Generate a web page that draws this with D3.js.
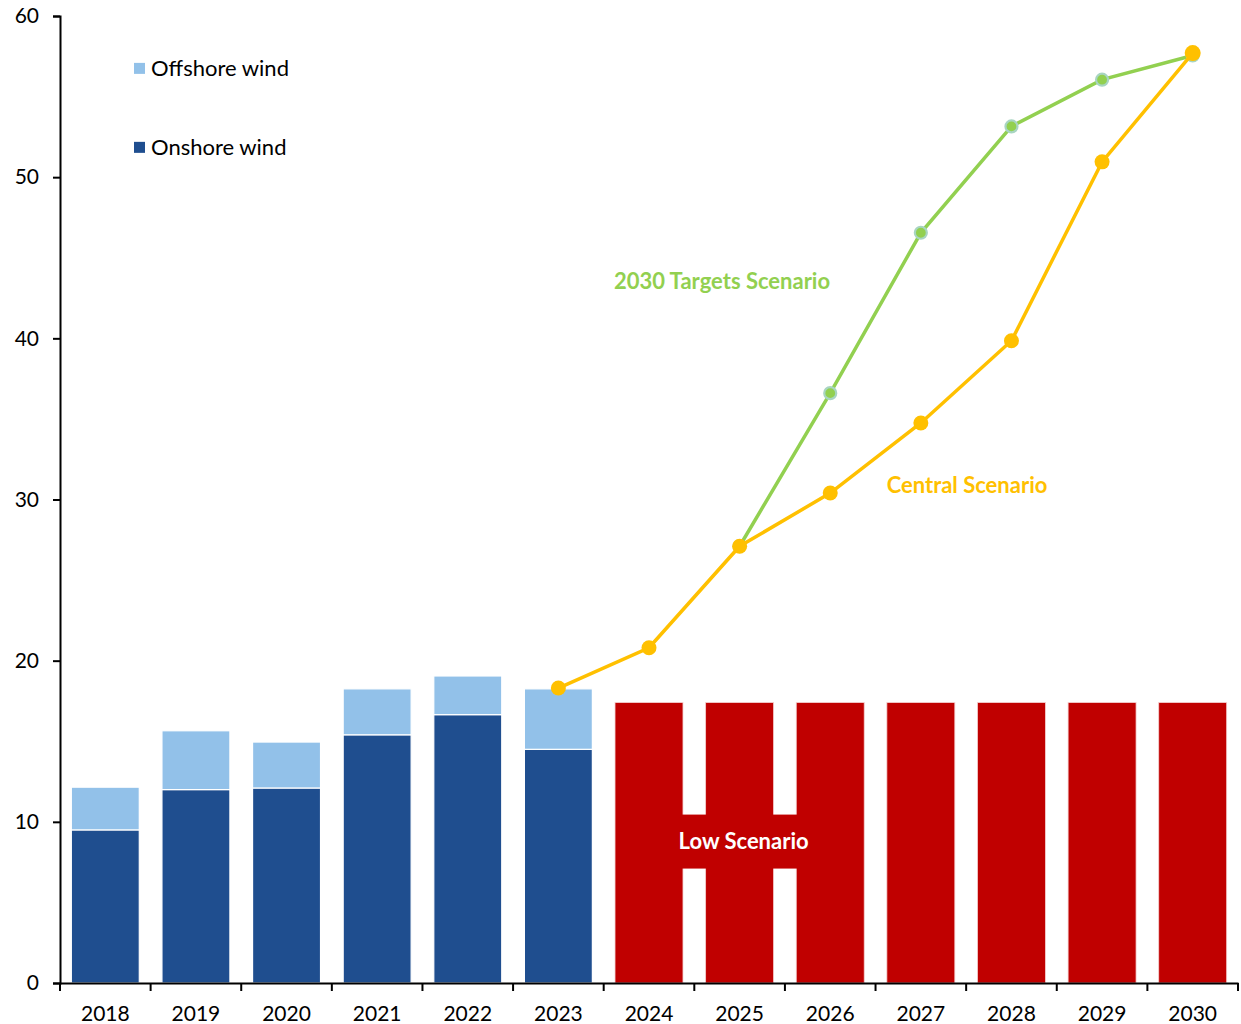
<!DOCTYPE html>
<html>
<head>
<meta charset="utf-8">
<script src="https://cdn.jsdelivr.net/npm/d3@7"></script>
<style>
  body { margin: 0; background: #fff; }
  svg text { font-family: Lato, "Open Sans", sans-serif; }
</style>
</head>
<body>
<svg id="chart" width="1241" height="1024"></svg>
<script>
const years = ["2018","2019","2020","2021","2022","2023","2024","2025","2026","2027","2028","2029","2030"];
const onshore = [9.5, 12.0, 12.1, 15.4, 16.65, 14.5];
const offshore = [2.65, 3.65, 2.85, 2.85, 2.4, 3.75];
const histYears = ["2018","2019","2020","2021","2022","2023"];
const lowYears = ["2024","2025","2026","2027","2028","2029","2030"];
const lowValues = [17.4, 17.4, 17.4, 17.4, 17.4, 17.4, 17.4];
const centralYears = ["2023","2024","2025","2026","2027","2028","2029","2030"];
const centralValues = [18.3, 20.8, 27.1, 30.4, 34.75, 39.85, 50.95, 57.7];
const targetYears = ["2025","2026","2027","2028","2029","2030"];
const targetValues = [27.1, 36.6, 46.55, 53.15, 56.05, 57.55];
const yTicks = [0, 10, 20, 30, 40, 50, 60];

const C = { on: "#1F4E8F", off: "#92C1E9", low: "#C00000", central: "#FFC000", target: "#92D050", targetStroke: "#A8D5C2" };

const svg = d3.select("#chart");
const L = 60, R = 1238, T = 16, B = 983;
const x = d3.scaleBand().domain(years).range([L, R]).paddingInner(0.25).paddingOuter(0.125);
const y = d3.scaleLinear().domain([0, 60]).range([B, T]);

// Historical stacked bars
const hist = histYears.map((yr, i) => ({ yr, on: onshore[i], off: offshore[i] }));
svg.append("g").selectAll("rect").data(hist).join("rect")
  .attr("x", d => x(d.yr)).attr("width", x.bandwidth())
  .attr("y", d => y(d.on)).attr("height", d => y(0) - y(d.on))
  .attr("fill", C.on).attr("stroke", "#fff").attr("stroke-width", 1.2);
svg.append("g").selectAll("rect").data(hist).join("rect")
  .attr("x", d => x(d.yr)).attr("width", x.bandwidth())
  .attr("y", d => y(d.on + d.off)).attr("height", d => y(d.on) - y(d.on + d.off))
  .attr("fill", C.off).attr("stroke", "#fff").attr("stroke-width", 1.2);

// Low scenario bars
svg.append("g").selectAll("rect").data(lowYears.map((yr, i) => ({ yr, v: lowValues[i] }))).join("rect")
  .attr("x", d => x(d.yr)).attr("width", x.bandwidth())
  .attr("y", d => y(d.v)).attr("height", d => y(0) - y(d.v))
  .attr("fill", C.low).attr("stroke", "#f4d0d0").attr("stroke-width", 0.8);

// Low scenario label box
const lowCx = x("2025") + x.bandwidth() / 2;
const lowLabel = svg.append("g");
lowLabel.append("rect")
  .attr("x", lowCx - 58).attr("width", 116)
  .attr("y", y(10.45)).attr("height", y(7.1) - y(10.45))
  .attr("fill", C.low);
lowLabel.append("text").attr("x", lowCx + 4).attr("y", y(8.8)).attr("dy", "0.35em")
  .attr("text-anchor", "middle").attr("fill", "#fff").attr("font-weight", "bold")
  .attr("font-size", 22).text("Low Scenario");

// Lines
const line = d3.line().x(d => x(d.yr) + x.bandwidth() / 2).y(d => y(d.v));
const targetData = targetYears.map((yr, i) => ({ yr, v: targetValues[i] }));
const centralData = centralYears.map((yr, i) => ({ yr, v: centralValues[i] }));

svg.append("path").datum(targetData).attr("d", line)
  .attr("fill", "none").attr("stroke", C.target).attr("stroke-width", 3.5);
svg.append("g").selectAll("circle").data(targetData).join("circle")
  .attr("cx", d => x(d.yr) + x.bandwidth() / 2).attr("cy", d => y(d.v)).attr("r", 6)
  .attr("fill", C.target).attr("stroke", C.targetStroke).attr("stroke-width", 2.2);

svg.append("path").datum(centralData).attr("d", line)
  .attr("fill", "none").attr("stroke", C.central).attr("stroke-width", 3.5);
svg.append("g").selectAll("circle").data(centralData).join("circle")
  .attr("cx", d => x(d.yr) + x.bandwidth() / 2).attr("cy", d => y(d.v))
  .attr("r", (d, i) => i === centralData.length - 1 ? 8 : 7.5)
  .attr("fill", C.central);

// Series labels
svg.append("text").attr("x", 722).attr("y", y(43.55)).attr("dy", "0.35em")
  .attr("text-anchor", "middle").attr("fill", C.target).attr("font-weight", "bold")
  .attr("font-size", 22).text("2030 Targets Scenario");
svg.append("text").attr("x", 967).attr("y", y(30.9)).attr("dy", "0.35em")
  .attr("text-anchor", "middle").attr("fill", C.central).attr("font-weight", "bold")
  .attr("font-size", 22).text("Central Scenario");

// Axes
const yAxis = svg.append("g").attr("transform", `translate(${L},0)`)
  .call(d3.axisLeft(y).tickValues(yTicks).tickSize(7).tickPadding(14).tickFormat(d3.format("d")));
yAxis.select(".domain").attr("stroke", "#000").attr("stroke-width", 2);
yAxis.selectAll(".tick line").attr("stroke", "#000").attr("stroke-width", 2);
yAxis.selectAll("text").attr("font-size", 21).attr("fill", "#000").attr("font-family", "Lato, sans-serif");

const xAxis = svg.append("g").attr("transform", `translate(0,${B})`)
  .call(d3.axisBottom(x).tickSize(0).tickPadding(23));
xAxis.select(".domain").attr("stroke", "#000").attr("stroke-width", 2);
xAxis.selectAll("text").attr("font-size", 21).attr("fill", "#000").attr("font-family", "Lato, sans-serif");
// boundary ticks between categories
const bounds = years.map(yr => x(yr) - x.step() * x.paddingInner() / 2).concat([R]);
svg.append("g").selectAll("line").data(bounds).join("line")
  .attr("x1", d => d).attr("x2", d => d).attr("y1", B).attr("y2", B + 8)
  .attr("stroke", "#000").attr("stroke-width", 2);

// Legend
const legend = [
  { label: "Offshore wind", color: C.off, v: 56.75 },
  { label: "Onshore wind", color: C.on, v: 51.85 }
];
const lg = svg.append("g").selectAll("g").data(legend).join("g");
lg.append("rect").attr("x", 134).attr("width", 11).attr("height", 11)
  .attr("y", d => y(d.v) - 5.5).attr("fill", d => d.color);
lg.append("text").attr("x", 151).attr("y", d => y(d.v)).attr("dy", "0.35em")
  .attr("font-size", 22).attr("fill", "#000").text(d => d.label);
</script>
</body>
</html>
